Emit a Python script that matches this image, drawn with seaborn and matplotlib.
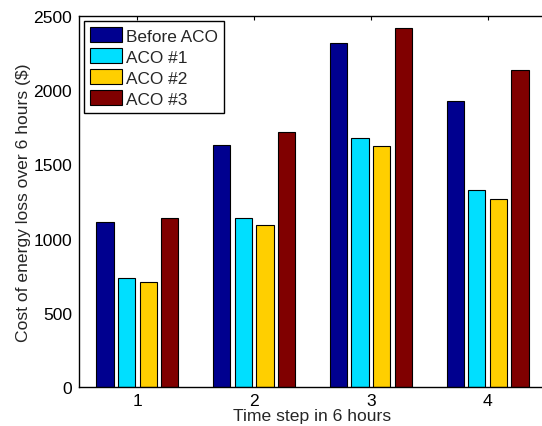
import matplotlib
matplotlib.use("Agg")
import matplotlib.pyplot as plt
import seaborn as sns
import pandas as pd

time_steps = ["1", "2", "3", "4"]
series_names = ["Before ACO", "ACO #1", "ACO #2", "ACO #3"]
before_aco = [1110, 1631, 2318, 1927]
aco_1 = [737, 1141, 1680, 1327]
aco_2 = [705, 1092, 1622, 1265]
aco_3 = [1137, 1716, 2421, 2134]
colors = ["#00008F", "#00DFFF", "#FFCF00", "#800000"]

rows = []
for name, vals in zip(series_names, [before_aco, aco_1, aco_2, aco_3]):
    for t, v in zip(time_steps, vals):
        rows.append({"Time": t, "Series": name, "Cost": v})
df = pd.DataFrame(rows)

sns.set_style("white")
plt.rcParams["font.family"] = ["Liberation Sans", "DejaVu Sans"]

fig = plt.figure(figsize=(5.42, 4.27), dpi=100)
ax = fig.add_axes([79/542, 1-388/427, (546-79)/542, (388-17)/427])

sns.barplot(data=df, x="Time", y="Cost", hue="Series", order=time_steps,
            hue_order=series_names, palette=colors, width=0.74, gap=0.2,
            edgecolor="black", linewidth=0.8, saturation=1, ax=ax, errorbar=None)

ax.set_xlim(-0.5, 3.5)
ax.set_ylim(0, 2500)
ax.set_yticks([0, 500, 1000, 1500, 2000, 2500])
ax.set_xlabel("Time step in 6 hours", fontsize=12.6, labelpad=0.5)
ax.set_ylabel("Cost of energy loss over 6 hours ($)", fontsize=12.6, labelpad=2)
ax.tick_params(axis="both", direction="in", length=3, width=0.8, labelsize=12.6,
               top=True, right=False, colors="black", pad=5)
ax.tick_params(axis="x", pad=4)
for s in ax.spines.values():
    s.set_visible(True)
    s.set_color("black")
    s.set_linewidth(1.0)

leg = ax.legend(loc="upper left", fontsize=12.4, frameon=True, fancybox=False,
                edgecolor="black", framealpha=1, handlelength=1.85,
                handleheight=0.95, labelspacing=0.27, handletextpad=0.2,
                borderpad=0.35, borderaxespad=0.3)
leg.get_frame().set_linewidth(1.0)

fig.savefig("out.png", dpi=100)
